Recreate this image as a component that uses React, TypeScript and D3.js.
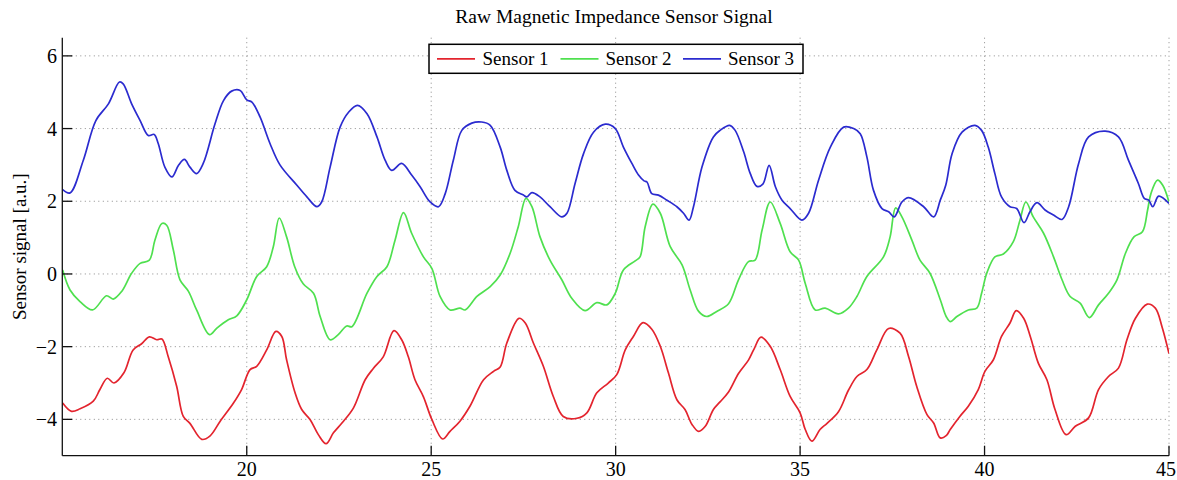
import React from "react";
import * as d3 from "d3";

const s1T = [15.01,15.25,15.48,15.84,16.02,16.22,16.4,16.67,16.92,17.15,17.36,17.56,17.7,17.87,18.1,18.28,18.46,18.78,19.0,19.28,19.64,19.86,20.09,20.27,20.54,20.79,20.95,21.08,21.31,21.49,21.72,21.94,22.15,22.35,22.58,22.89,23.21,23.43,23.7,23.99,24.2,24.38,24.56,24.79,25.02,25.31,25.51,25.78,26.05,26.42,26.69,26.87,27.05,27.38,27.55,27.77,28.04,28.31,28.58,28.95,29.22,29.49,29.8,30.03,30.26,30.48,30.74,30.98,31.21,31.43,31.66,31.88,32.07,32.25,32.43,32.65,32.83,33.06,33.33,33.6,33.74,33.94,34.19,34.46,34.73,35.0,35.14,35.32,35.54,35.73,36.04,36.31,36.54,36.81,37.08,37.4,37.71,37.94,38.16,38.44,38.62,38.8,38.96,39.07,39.33,39.56,39.83,40.01,40.24,40.46,40.69,40.86,41.06,41.24,41.46,41.69,41.91,42.21,42.46,42.82,43.09,43.36,43.63,43.86,44.09,44.41,44.63,44.81,45.0];
const s1V = [-3.55,-3.78,-3.71,-3.5,-3.18,-2.87,-3.0,-2.72,-2.09,-1.92,-1.73,-1.81,-1.79,-2.27,-3.09,-3.92,-4.11,-4.55,-4.46,-4.05,-3.55,-3.18,-2.63,-2.54,-2.09,-1.58,-1.72,-2.36,-3.27,-3.73,-4.01,-4.42,-4.67,-4.37,-4.1,-3.69,-2.91,-2.6,-2.28,-1.56,-1.81,-2.28,-2.91,-3.38,-4.01,-4.54,-4.33,-4.05,-3.64,-2.91,-2.68,-2.56,-1.9,-1.22,-1.35,-1.9,-2.54,-3.37,-3.92,-3.97,-3.82,-3.27,-3.0,-2.77,-2.09,-1.72,-1.34,-1.52,-1.99,-2.72,-3.46,-3.73,-4.14,-4.33,-4.19,-3.73,-3.52,-3.25,-2.74,-2.37,-2.09,-1.74,-1.99,-2.63,-3.37,-3.82,-4.28,-4.6,-4.28,-4.11,-3.79,-3.2,-2.82,-2.63,-2.09,-1.5,-1.63,-2.27,-3.09,-3.87,-4.1,-4.51,-4.45,-4.28,-3.92,-3.64,-3.18,-2.68,-2.36,-1.72,-1.35,-1.01,-1.22,-1.72,-2.46,-2.91,-3.73,-4.42,-4.19,-3.96,-3.18,-2.82,-2.59,-1.81,-1.22,-0.83,-0.94,-1.45,-2.19];

const s2T = [15.01,15.21,15.48,15.82,16.2,16.38,16.61,16.88,17.11,17.36,17.51,17.7,17.83,18.01,18.19,18.42,18.64,18.99,19.19,19.5,19.73,20.0,20.27,20.54,20.72,20.88,21.08,21.3,21.53,21.81,21.99,22.26,22.48,22.71,22.85,23.26,23.53,23.8,24.02,24.25,24.47,24.79,25.02,25.24,25.51,25.78,25.92,26.24,26.6,26.87,27.14,27.36,27.57,27.73,27.95,28.22,28.54,28.81,29.17,29.49,29.76,29.99,30.21,30.53,30.66,30.8,31.01,31.21,31.48,31.8,32.02,32.25,32.47,32.74,33.06,33.33,33.6,33.78,33.97,34.19,34.46,34.73,34.96,35.14,35.41,35.68,36.04,36.31,36.54,36.81,37.26,37.44,37.59,37.76,38.03,38.25,38.52,38.8,38.96,39.07,39.25,39.56,39.79,39.92,40.06,40.28,40.51,40.78,40.96,41.12,41.32,41.6,41.87,42.1,42.32,42.59,42.84,43.09,43.36,43.59,43.82,44.05,44.28,44.42,44.51,44.69,44.83,45.0];
const s2V = [0.11,-0.44,-0.76,-0.99,-0.6,-0.69,-0.48,0.02,0.29,0.38,0.93,1.39,1.34,0.66,-0.16,-0.48,-0.99,-1.67,-1.49,-1.26,-1.15,-0.71,-0.07,0.2,0.75,1.54,1.02,0.2,-0.27,-0.53,-1.17,-1.81,-1.67,-1.43,-1.45,-0.53,-0.07,0.2,0.93,1.69,1.12,0.47,0.15,-0.62,-0.99,-0.94,-0.99,-0.62,-0.35,-0.03,0.57,1.3,2.08,1.85,1.02,0.38,-0.16,-0.67,-1.01,-0.79,-0.85,-0.53,0.11,0.36,0.47,1.3,1.92,1.67,0.75,0.25,-0.44,-1.03,-1.17,-1.03,-0.82,-0.16,0.34,0.38,1.21,1.98,1.39,0.61,0.38,-0.26,-0.99,-0.94,-1.1,-0.94,-0.62,-0.07,0.47,1.02,1.82,1.57,0.93,0.38,0.02,-0.71,-1.17,-1.31,-1.17,-0.99,-0.94,-0.53,0.02,0.47,0.55,0.89,1.48,1.98,1.57,1.12,0.47,-0.16,-0.62,-0.8,-1.2,-0.85,-0.53,-0.16,0.57,1.02,1.16,1.76,2.21,2.58,2.44,1.98];

const s3T = [15.01,15.21,15.57,15.91,16.25,16.55,16.65,16.88,17.11,17.33,17.49,17.6,17.78,17.97,18.15,18.31,18.46,18.64,18.82,19.14,19.37,19.59,19.82,20.0,20.14,20.36,20.63,20.9,21.36,21.63,21.9,22.03,22.26,22.53,22.76,23.0,23.26,23.53,23.75,23.93,24.2,24.47,24.7,24.97,25.2,25.38,25.6,25.83,26.1,26.37,26.6,26.87,27.05,27.27,27.5,27.59,27.73,27.95,28.22,28.54,28.68,28.9,29.13,29.4,29.72,29.99,30.21,30.44,30.62,30.77,30.85,30.98,31.16,31.39,31.66,31.84,31.99,32.11,32.34,32.65,32.83,33.09,33.24,33.47,33.65,33.83,33.99,34.16,34.33,34.51,34.73,35.05,35.23,35.5,35.82,36.18,36.45,36.63,36.81,36.99,37.22,37.4,37.55,37.76,37.94,38.35,38.62,38.8,38.95,39.12,39.39,39.74,39.92,40.1,40.28,40.46,40.69,40.87,41.07,41.23,41.42,41.64,41.87,42.1,42.28,42.55,42.82,43.27,43.63,43.9,44.17,44.33,44.45,44.56,44.72,45.0];
const s3V = [2.32,2.23,3.13,4.22,4.68,5.28,5.23,4.68,4.22,3.81,3.84,3.59,2.94,2.67,2.99,3.15,2.94,2.76,3.04,4.13,4.77,5.03,5.05,4.79,4.73,4.32,3.59,3.0,2.44,2.12,1.85,1.98,2.94,4.04,4.45,4.64,4.41,3.77,3.13,2.85,3.04,2.72,2.4,1.98,1.85,2.21,3.13,3.95,4.15,4.18,4.09,3.49,2.85,2.3,2.17,2.12,2.24,2.12,1.85,1.57,1.67,2.49,3.31,3.9,4.12,4.0,3.49,3.04,2.72,2.56,2.53,2.21,2.17,2.03,1.85,1.67,1.48,1.85,2.94,3.77,3.95,4.09,3.95,3.36,2.76,2.41,2.47,2.99,2.4,2.03,1.8,1.48,1.67,2.58,3.49,4.04,4.0,3.86,3.22,2.3,1.8,1.71,1.57,1.98,2.1,1.85,1.57,2.03,2.45,3.31,3.9,4.09,3.95,3.49,2.76,2.12,1.85,1.8,1.41,1.71,1.96,1.76,1.62,1.5,1.85,3.04,3.77,3.93,3.77,3.13,2.49,2.08,2.03,1.85,2.14,1.94];

const seriesNames = ["Sensor 1", "Sensor 2", "Sensor 3"];
const seriesColors = ["#e3242e", "#4fe04f", "#2b2bcf"];
const xTicks = [20, 25, 30, 35, 40, 45];
const yTicks = [-4, -2, 0, 2, 4, 6];
const titleText = "Raw Magnetic Impedance Sensor Signal";
const yLabel = "Sensor signal [a.u.]";

export default function App() {
  const W = 1177, H = 480;
  const L = 62.3, R = 1169, T = 37.7, B = 455.7;
  const x = d3.scaleLinear().domain([15, 45]).range([L, R]);
  const y = d3.scaleLinear().domain([-5, 6.5]).range([B, T]);
  const font = "'Liberation Serif', 'Times New Roman', serif";
  const series = [
    { t: s1T, v: s1V },
    { t: s2T, v: s2V },
    { t: s3T, v: s3V },
  ];
  const line = d3
    .line<[number, number]>()
    .x((d) => x(d[0]))
    .y((d) => y(d[1]))
    .curve(d3.curveCatmullRom.alpha(0.5));
  const fmt = (v: number) => d3.format("")(v);

  const legX = 429, legY = 44.3, legW = 374, legH = 29;
  const legItems = [
    { lx: 437, tx: 482.5 },
    { lx: 560.5, tx: 605.5 },
    { lx: 683, tx: 728 },
  ];

  return (
    <svg
      width={W}
      height={H}
      style={{ position: "absolute", left: 0, top: 0, background: "#fff" }}
      fontFamily={font}
    >
      <defs>
        <clipPath id="plotclip">
          <rect x={L} y={T} width={R - L} height={B - T} />
        </clipPath>
      </defs>
      <rect x={0} y={0} width={W} height={H} fill="#fff" />
      <g stroke="#8a8a8a" strokeWidth={1} strokeDasharray="1,3.5">
        {xTicks.map((t) => (
          <line key={"gx" + t} x1={x(t)} x2={x(t)} y1={T} y2={B} />
        ))}
        {yTicks.map((t) => (
          <line key={"gy" + t} x1={L} x2={R} y1={y(t)} y2={y(t)} />
        ))}
      </g>
      <g clipPath="url(#plotclip)" fill="none" strokeWidth={1.7} strokeLinejoin="round">
        {series.map((s, i) => (
          <path
            key={i}
            d={line(s.t.map((t, j) => [t, s.v[j]] as [number, number])) || ""}
            stroke={seriesColors[i]}
          />
        ))}
      </g>
      <g stroke="#111" strokeWidth={1.3}>
        <line x1={L} x2={L} y1={T} y2={B} />
        <line x1={L} x2={R} y1={B} y2={B} />
        {xTicks.map((t) => (
          <line key={"tx" + t} x1={x(t)} x2={x(t)} y1={B} y2={B - 10} />
        ))}
        {yTicks.map((t) => (
          <line key={"ty" + t} x1={L} x2={L + 10} y1={y(t)} y2={y(t)} />
        ))}
      </g>
      <g fontSize={20} fill="#000">
        {xTicks.map((t) => {
          const px = Math.min(x(t), W - 11);
          return (
            <text key={"lx" + t} x={px} y={476} textAnchor="middle">
              {fmt(t)}
            </text>
          );
        })}
        {yTicks.map((t) => (
          <text key={"ly" + t} x={57} y={y(t) + 7} textAnchor="end">
            {fmt(t)}
          </text>
        ))}
      </g>
      <text x={614} y={23} textAnchor="middle" fontSize={19.5} fill="#000">
        {titleText}
      </text>
      <text
        transform={`translate(26,${(T + B) / 2}) rotate(-90)`}
        textAnchor="middle"
        fontSize={19}
        fill="#000"
      >
        {yLabel}
      </text>
      <rect x={legX} y={legY} width={legW} height={legH} fill="#fff" stroke="#000" strokeWidth={1.5} />
      {legItems.map((it, i) => (
        <g key={"leg" + i}>
          <line
            x1={it.lx}
            x2={it.lx + 38}
            y1={legY + legH / 2}
            y2={legY + legH / 2}
            stroke={seriesColors[i]}
            strokeWidth={1.7}
          />
          <text x={it.tx} y={legY + legH / 2 + 6.5} fontSize={19} fill="#000">
            {seriesNames[i]}
          </text>
        </g>
      ))}
    </svg>
  );
}
